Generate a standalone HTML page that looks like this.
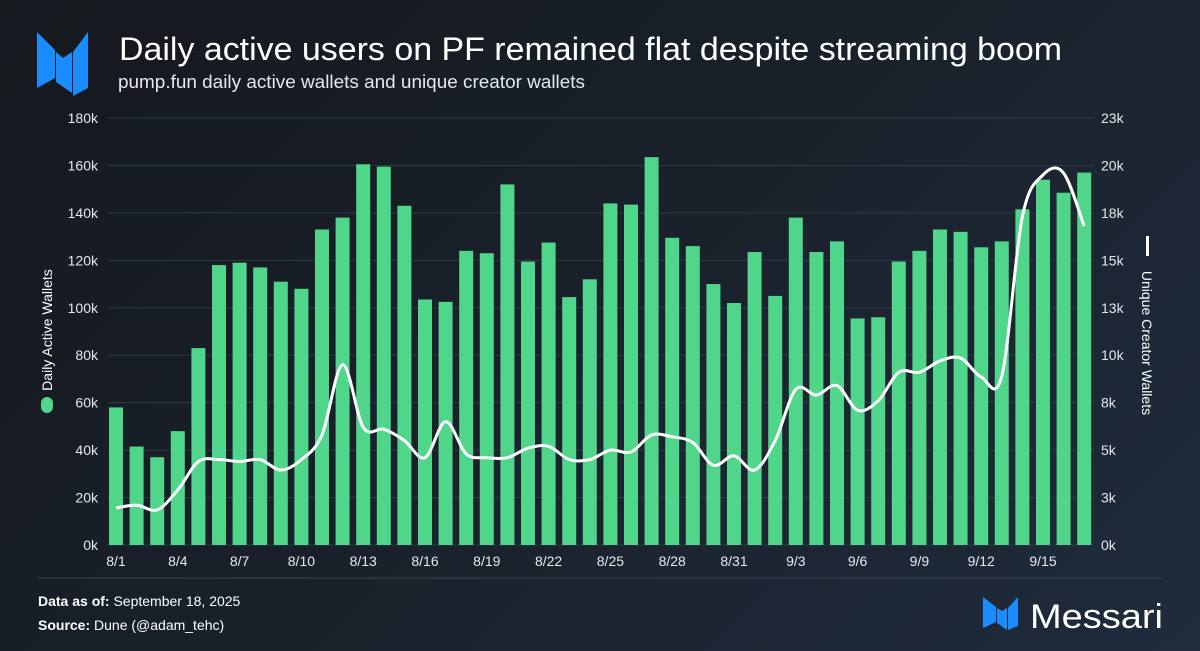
<!DOCTYPE html>
<html><head><meta charset="utf-8"><style>
body{margin:0;width:1200px;height:651px;overflow:hidden;background:linear-gradient(135deg,#15181d 0%,#1a212b 50%,#1f2c3d 100%);font-family:"Liberation Sans",sans-serif;color:#fff}
svg{position:absolute;left:0;top:0}
</style></head><body>
<svg width="1200" height="651">
<g>
<polygon points="37,32 55,50 55,78 37,88" fill="#1a8cff"/>
<polygon points="56,52 63,58 72,52 72,93 56,82" fill="#1a8cff"/>
<polygon points="73,52 88,32 88,88 73,96" fill="#1a8cff"/>
</g>
<text x="119" y="60" font-size="32" fill="#fff" textLength="943" lengthAdjust="spacingAndGlyphs">Daily active users on PF remained flat despite streaming boom</text>
<text x="118" y="88" font-size="18" fill="#e6e8ec" textLength="467" lengthAdjust="spacingAndGlyphs">pump.fun daily active wallets and unique creator wallets</text>
<g id="grid"></g><g id="bars"></g><g id="line"></g><g id="axes"></g>
<g transform="translate(52,330) rotate(-90)">
<text x="0" y="0" font-size="14" fill="#fff" text-anchor="middle">Daily Active Wallets</text></g>
<rect x="41" y="397" width="12" height="16" rx="6" fill="#4fd68a"/>
<g transform="translate(1142,343) rotate(90)">
<text x="0" y="0" font-size="14" fill="#fff" text-anchor="middle">Unique Creator Wallets</text></g>
<rect x="1146" y="236" width="3" height="20" fill="#fff"/>
<line x1="38" y1="578" x2="1162" y2="578" stroke="#3a4350" stroke-width="1"/>
<text x="38" y="606" font-size="14" fill="#fff"><tspan font-weight="bold">Data as of:</tspan> September 18, 2025</text>
<text x="38" y="630" font-size="14" fill="#fff"><tspan font-weight="bold">Source:</tspan> Dune (@adam_tehc)</text>
<g>
<polygon points="983,597 996,607 996,622 983,628" fill="#1a8cff"/>
<polygon points="997,608 1002,611 1007,608 1007,630 997,623" fill="#1a8cff"/>
<polygon points="1008,608 1018,597 1018,626 1008,630" fill="#1a8cff"/>
<text x="1030" y="628" font-size="34" fill="#fff" textLength="133" lengthAdjust="spacingAndGlyphs">Messari</text></g>
</svg>
<script>
const dates=["8/1","8/2","8/3","8/4","8/5","8/6","8/7","8/8","8/9","8/10","8/11","8/12","8/13","8/14","8/15","8/16","8/17","8/18","8/19","8/20","8/21","8/22","8/23","8/24","8/25","8/26","8/27","8/28","8/29","8/30","8/31","9/1","9/2","9/3","9/4","9/5","9/6","9/7","9/8","9/9","9/10","9/11","9/12","9/13","9/14","9/15","9/16","9/17"];
const activeWallets=[58,41.5,37,48,83,118,119,117,111,108,133,138,160.5,159.5,143,103.5,102.5,124,123,152,119.5,127.5,104.5,112,144,143.5,163.5,129.5,126,110,102,123.5,105,138,123.5,128,95.5,96,119.5,124,133,132,125.5,128,141.5,154,148.5,157];
const creatorWallets=[1.95,2.1,1.85,2.9,4.4,4.5,4.4,4.5,3.95,4.5,5.8,9.5,6.2,6.1,5.5,4.6,6.5,4.8,4.6,4.6,5.1,5.2,4.5,4.5,5,4.9,5.8,5.7,5.4,4.2,4.7,3.95,5.5,8.2,7.9,8.4,7.1,7.6,9.1,9.1,9.7,9.85,8.85,8.9,17.3,19.5,19.6,16.8];
const leftTicks=[0,20,40,60,80,100,120,140,160,180];
const rightTicks=[0,2.5,5,7.5,10,12.5,15,17.5,20,22.5];
const rightLabels=["0k","3k","5k","8k","10k","13k","15k","18k","20k","23k"];
const NS="http://www.w3.org/2000/svg";
const x0=116,step=20.6,yB=545,yT=118;
const x=i=>x0+i*step;
const yL=v=>yB-(v/180)*(yB-yT);
const yR=v=>yB-(v/22.5)*(yB-yT);
function mk(t,a,p){const e=document.createElementNS(NS,t);for(const k in a)e.setAttribute(k,a[k]);p.appendChild(e);return e;}
const G=document.getElementById('grid'),B=document.getElementById('bars'),L=document.getElementById('line'),A=document.getElementById('axes');
leftTicks.forEach((t,i)=>{
 const gl=mk('line',{x1:108,x2:1094,y1:yL(t),y2:yL(t),stroke:'#2f3845','stroke-width':1},G);
 
 
 const tl=mk('text',{x:98,y:yL(t)+5,'font-size':14,fill:'#e6e8ec','text-anchor':'end'},A);tl.textContent=t+'k';
 
 
});
rightTicks.forEach((t,i)=>{
 const tl=mk('text',{x:1101,y:yR(t)+5,'font-size':14,fill:'#e6e8ec'},A);tl.textContent=rightLabels[i];
 
 
});
activeWallets.forEach((v,i)=>{
 const r=mk('rect',{x:x(i)-7,y:yL(v),width:14,height:yB-yL(v),fill:'#4fd68a'},B);
 
 
 if(i%3==0){const tl=mk('text',{x:x(i),y:566,'font-size':14,fill:'#e6e8ec','text-anchor':'middle'},A);tl.textContent=dates[i];
 
 }
});
const pts=creatorWallets.map((v,i)=>[x(i),yR(v)]);
let d='M'+pts[0][0]+','+pts[0][1];
for(let i=0;i<pts.length-1;i++){const p0=pts[Math.max(0,i-1)],p1=pts[i],p2=pts[i+1],p3=pts[Math.min(pts.length-1,i+2)];
 const c1=[p1[0]+(p2[0]-p0[0])/6,p1[1]+(p2[1]-p0[1])/6],c2=[p2[0]-(p3[0]-p1[0])/6,p2[1]-(p3[1]-p1[1])/6];
 d+=' C'+c1+' '+c2+' '+p2;}
const ln=mk('path',{d:d,fill:'none',stroke:'#fff','stroke-width':3,'stroke-linejoin':'round'},L);


</script>
</body></html>
